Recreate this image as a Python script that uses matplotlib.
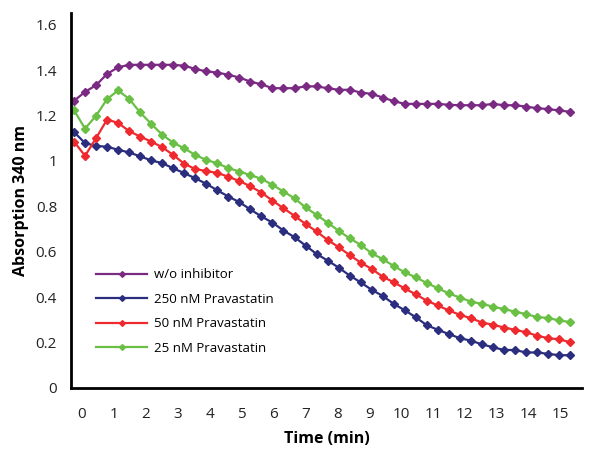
import numpy as np
import matplotlib
matplotlib.use("Agg")
import matplotlib.pyplot as plt

plt.rcParams['font.family'] = ['Open Sans', 'DejaVu Sans']

# sampling times (min), 46 readings
time_min = np.linspace(-0.25, 15.3, 46)

no_inhibitor = [1.264, 1.304, 1.333, 1.383, 1.412, 1.423, 1.423, 1.423, 1.423, 1.423,
                1.419, 1.405, 1.394, 1.389, 1.379, 1.367, 1.349, 1.337, 1.320, 1.320,
                1.320, 1.328, 1.328, 1.320, 1.313, 1.313, 1.301, 1.295, 1.279, 1.263,
                1.251, 1.251, 1.251, 1.251, 1.247, 1.245, 1.245, 1.245, 1.251, 1.245,
                1.245, 1.239, 1.232, 1.228, 1.222, 1.216]
prava_250 = [1.127, 1.078, 1.066, 1.062, 1.049, 1.037, 1.020, 1.002, 0.990, 0.967,
             0.946, 0.923, 0.899, 0.870, 0.843, 0.818, 0.786, 0.755, 0.728, 0.693,
             0.664, 0.627, 0.590, 0.561, 0.530, 0.495, 0.465, 0.432, 0.405, 0.370,
             0.342, 0.311, 0.276, 0.256, 0.237, 0.219, 0.208, 0.192, 0.179, 0.167,
             0.167, 0.156, 0.156, 0.150, 0.144, 0.144]
prava_50 = [1.085, 1.022, 1.100, 1.182, 1.167, 1.131, 1.107, 1.085, 1.060, 1.026,
            0.987, 0.964, 0.955, 0.947, 0.930, 0.911, 0.888, 0.860, 0.825, 0.791,
            0.758, 0.722, 0.689, 0.652, 0.620, 0.585, 0.552, 0.524, 0.490, 0.465,
            0.438, 0.412, 0.384, 0.363, 0.341, 0.322, 0.307, 0.288, 0.278, 0.266,
            0.256, 0.245, 0.230, 0.219, 0.214, 0.201]
prava_25 = [1.223, 1.142, 1.199, 1.272, 1.310, 1.273, 1.213, 1.163, 1.115, 1.080,
            1.055, 1.026, 1.004, 0.989, 0.968, 0.953, 0.937, 0.921, 0.894, 0.865,
            0.835, 0.795, 0.762, 0.728, 0.692, 0.659, 0.630, 0.593, 0.567, 0.537,
            0.509, 0.487, 0.462, 0.439, 0.416, 0.398, 0.380, 0.370, 0.358, 0.347,
            0.336, 0.325, 0.312, 0.308, 0.297, 0.290]

labels = ['w/o inhibitor', '250 nM Pravastatin', '50 nM Pravastatin', '25 nM Pravastatin']
colors = ['#7b2a84', '#2b2d7e', '#ee2a2e', '#6abf45']
x_ticks = list(range(0, 16))
y_ticks = [0, 0.2, 0.4, 0.6, 0.8, 1, 1.2, 1.4, 1.6]
y_tick_labels = ['0', '0.2', '0.4', '0.6', '0.8', '1', '1.2', '1.4', '1.6']

fig = plt.figure(figsize=(5.99, 4.5), dpi=100)
ax = fig.add_axes([0.1185, 0.138, 0.853, 0.834])

for series, lab, col in zip([no_inhibitor, prava_250, prava_50, prava_25], labels, colors):
    ax.plot(time_min, series, color=col, lw=1.6, marker='D', markersize=4.2,
            label=lab)

ax.set_xlim(-0.345, 15.67)
ax.set_ylim(0, 1.653)
ax.set_xticks(x_ticks)
ax.set_yticks(y_ticks)
ax.set_yticklabels(y_tick_labels)
ax.tick_params(axis='both', length=0, labelsize=11, colors='#222222')
ax.tick_params(axis='x', pad=14)
ax.tick_params(axis='y', pad=10)

for side in ['top', 'right']:
    ax.spines[side].set_visible(False)
for side in ['left', 'bottom']:
    ax.spines[side].set_linewidth(2)
    ax.spines[side].set_color('black')

ax.set_xlabel('Time (min)', fontsize=11.5, fontweight='bold', labelpad=6)
ax.set_ylabel('Absorption 340 nm', fontsize=11.5, fontweight='bold', labelpad=5)

ax.legend(loc='upper left', bbox_to_anchor=(0.049, 0.319), frameon=False,
          fontsize=9.5, handlelength=3.9, handletextpad=0.5, labelspacing=0.88,
          borderpad=0, borderaxespad=0, numpoints=1, markerscale=0.7)

fig.savefig('out.png', dpi=100)
